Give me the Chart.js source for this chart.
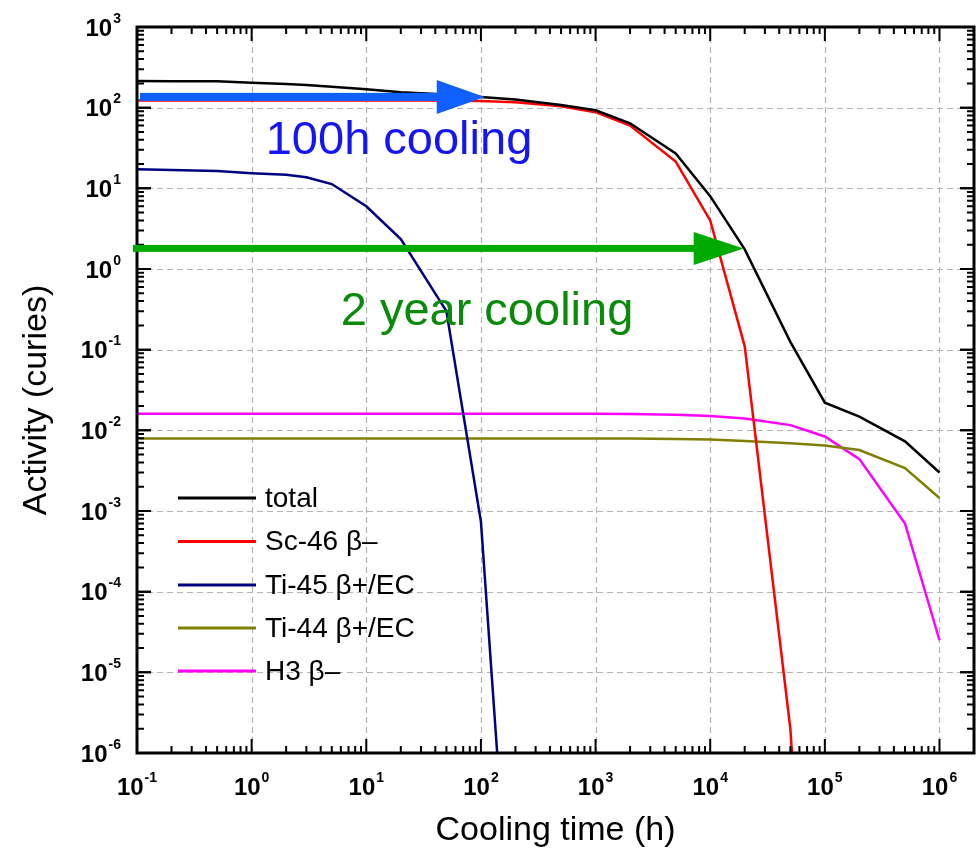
<!DOCTYPE html>
<html>
<head>
<meta charset="utf-8">
<script src="https://cdn.jsdelivr.net/npm/chart.js@4.4.0/dist/chart.umd.min.js"></script>
<style>
  body { margin: 0; background: #fff; }
  canvas { display: block; }
</style>
</head>
<body>
<canvas id="chart" width="977" height="858"></canvas>
<script>
// Cooling time grid (h)
const times = [0.1, 0.2, 0.5, 1, 2, 3, 5, 10, 20, 50, 100, 200, 500, 1000, 2000, 5000, 1e4, 2e4, 5e4, 1e5, 2e5, 5e5, 1e6];

// Activity (curies)
const total = [214, 213, 212, 204, 196, 191, 182, 169, 155, 146, 136, 126, 108, 93, 64, 27, 8.0, 1.75, 0.125, 0.022, 0.0148, 0.0073, 0.0030];
const sc46  = [123, 123, 123, 123, 123, 123, 123, 123, 123, 123, 121, 117, 104, 88, 60, 21.5, 4.0, 0.11, 2e-6, 1e-12, null, null, null];
const ti45  = [17.2, 16.9, 16.4, 15.4, 14.7, 13.7, 11.3, 6.0, 2.35, 0.30, 7.4e-4, 6e-10, null, null, null, null, null, null, null, null, null, null, null];
const ti44  = [0.0079, 0.0079, 0.0079, 0.0079, 0.0079, 0.0079, 0.0079, 0.0079, 0.0079, 0.0079, 0.0079, 0.0079, 0.0079, 0.0079, 0.0079, 0.0078, 0.0077, 0.0074, 0.0069, 0.0065, 0.0057, 0.0034, 0.00145];
const h3    = [0.0161, 0.0161, 0.0161, 0.0161, 0.0161, 0.0161, 0.0161, 0.0161, 0.0161, 0.0161, 0.0161, 0.0161, 0.0161, 0.0160, 0.0159, 0.0156, 0.0151, 0.0140, 0.0116, 0.0084, 0.0044, 7.0e-4, 2.5e-5];

const seriesLabels = ['total', 'Sc-46 \u03b2\u2013', 'Ti-45 \u03b2+/EC', 'Ti-44 \u03b2+/EC', 'H3 \u03b2\u2013'];
const seriesColors = ['#000000', '#ff0000', '#000080', '#808000', '#ff00ff'];

// axis decades (exponents) for tick labels
const xDecades = [-1, 0, 1, 2, 3, 4, 5, 6];
const yDecades = [3, 2, 1, 0, -1, -2, -3, -4, -5, -6];

// annotation arrows: [end time, activity]
const arrowBlue = [108, 136];
const arrowGreen = [19600, 1.8];

const FONT = '"Liberation Sans", Arial, Helvetica, sans-serif';

function toPoints(vals) {
    return times.map((t, i) => ({ x: t, y: vals[i] }));
}

const allSeries = [total, sc46, ti45, ti44, h3];
const datasets = allSeries.map((vals, i) => ({
    label: seriesLabels[i],
    data: toPoints(vals),
    borderColor: seriesColors[i],
    backgroundColor: seriesColors[i],
    borderWidth: 2.5,
    pointRadius: 0,
    tension: 0,
    spanGaps: false
}));

function drawArrow(ctx, x0, x1, y, color, shaft, headLen, headHalf) {
    ctx.save();
    ctx.fillStyle = color;
    ctx.fillRect(x0, y - shaft / 2, x1 - headLen - x0 + 1, shaft);
    ctx.beginPath();
    ctx.moveTo(x1, y);
    ctx.lineTo(x1 - headLen, y - headHalf);
    ctx.lineTo(x1 - headLen, y + headHalf);
    ctx.closePath();
    ctx.fill();
    ctx.restore();
}

function drawPow(ctx, exp, x, y, align) {
    // "10" with superscript exponent; y = baseline of "10"
    const base = 'bold 24px ' + FONT;
    const sup = 'bold 14px ' + FONT;
    const e = exp < 0 ? '-' + Math.abs(exp) : String(exp);
    ctx.font = base;
    const w1 = ctx.measureText('10').width;
    ctx.font = sup;
    const w2 = ctx.measureText(e).width;
    const w = w1 + 1 + w2;
    let left = align === 'right' ? x - w : x - w / 2;
    ctx.textAlign = 'left';
    ctx.textBaseline = 'alphabetic';
    ctx.fillStyle = '#000';
    ctx.font = base;
    ctx.fillText('10', left, y);
    ctx.font = sup;
    ctx.fillText(e, left + w1 + 1, y - 13);
}

const decor = {
    id: 'decor',
    beforeDatasetsDraw(chart) {
        const { ctx, chartArea: a, scales } = chart;
        ctx.save();
        ctx.strokeStyle = '#b4b4b4';
        ctx.lineWidth = 1.2;
        ctx.setLineDash([6, 4]);
        xDecades.forEach(p => {
            const x = Math.round(scales.x.getPixelForValue(Math.pow(10, p))) + 0.5;
            if (x <= a.left + 2 || x >= a.right - 2) return;
            ctx.beginPath(); ctx.moveTo(x, a.top); ctx.lineTo(x, a.bottom); ctx.stroke();
        });
        yDecades.forEach(p => {
            const y = Math.round(scales.y.getPixelForValue(Math.pow(10, p))) + 0.5;
            if (y <= a.top + 2 || y >= a.bottom - 2) return;
            ctx.beginPath(); ctx.moveTo(a.left, y); ctx.lineTo(a.right, y); ctx.stroke();
        });
        ctx.restore();
    },
    afterDatasetsDraw(chart) {
        const { ctx, chartArea: a, scales } = chart;
        const sx = scales.x, sy = scales.y;
        ctx.save();

        // frame
        ctx.strokeStyle = '#000';
        ctx.lineWidth = 3;
        ctx.strokeRect(a.left, a.top, a.right - a.left, a.bottom - a.top);

        // inward ticks
        ctx.lineWidth = 2;
        const major = 14, minor = 7;
        for (let p = -1; p <= 6; p++) {
            for (let m = 1; m <= 9; m++) {
                const v = m * Math.pow(10, p);
                if (v > sx.max) continue;
                const x = sx.getPixelForValue(v);
                const len = m === 1 ? major : minor;
                ctx.beginPath();
                ctx.moveTo(x, a.bottom); ctx.lineTo(x, a.bottom - len);
                ctx.moveTo(x, a.top); ctx.lineTo(x, a.top + len);
                ctx.stroke();
            }
        }
        for (let p = -6; p <= 2; p++) {
            for (let m = 1; m <= 10; m++) {
                const v = m * Math.pow(10, p);
                const y = sy.getPixelForValue(v);
                const len = (m === 1 || m === 10) ? major : minor;
                ctx.beginPath();
                ctx.moveTo(a.left, y); ctx.lineTo(a.left + len, y);
                ctx.moveTo(a.right, y); ctx.lineTo(a.right - len, y);
                ctx.stroke();
            }
        }

        // tick labels
        xDecades.forEach(p => drawPow(ctx, p, sx.getPixelForValue(Math.pow(10, p)), 795, 'center'));
        yDecades.forEach(p => drawPow(ctx, p, 121, sy.getPixelForValue(Math.pow(10, p)) + 8.6, 'right'));

        // axis titles
        ctx.fillStyle = '#000';
        ctx.font = '34px ' + FONT;
        ctx.textAlign = 'center';
        ctx.textBaseline = 'middle';
        ctx.fillText('Cooling time (h)', (a.left + a.right) / 2, 831);
        ctx.save();
        ctx.translate(37, 400);
        ctx.rotate(-Math.PI / 2);
        ctx.fillText('Activity (curies)', 0, 0);
        ctx.restore();

        // legend
        const rowY = [498, 541.5, 585, 628, 671];
        ctx.font = '28px ' + FONT;
        ctx.textAlign = 'left';
        ctx.textBaseline = 'middle';
        chart.data.datasets.forEach((ds, i) => {
            ctx.strokeStyle = ds.borderColor;
            ctx.lineWidth = 3;
            ctx.beginPath();
            ctx.moveTo(178, rowY[i]); ctx.lineTo(256, rowY[i]);
            ctx.stroke();
            ctx.fillStyle = '#000';
            ctx.fillText(ds.label, 265, rowY[i] + 1);
        });

        // annotations
        const bx = sx.getPixelForValue(arrowBlue[0]);
        const by = sy.getPixelForValue(arrowBlue[1]);
        drawArrow(ctx, a.left + 3, bx, by, '#1060ff', 8, 48, 17);
        const gx = sx.getPixelForValue(arrowGreen[0]);
        const gy = sy.getPixelForValue(arrowGreen[1]);
        drawArrow(ctx, a.left - 4, gx, gy, '#00aa00', 7, 50, 16.5);

        ctx.font = '47px ' + FONT;
        ctx.textAlign = 'center';
        ctx.textBaseline = 'alphabetic';
        ctx.fillStyle = '#1414f5';
        ctx.fillText('100h cooling', 399, 154);
        ctx.fillStyle = '#0a8a0a';
        ctx.fillText('2 year cooling', 487, 325);

        ctx.restore();
    }
};

new Chart(document.getElementById('chart'), {
    type: 'line',
    data: { datasets: datasets },
    options: {
        responsive: false,
        animation: false,
        devicePixelRatio: 1,
        layout: { padding: { left: 137, top: 27, right: 3, bottom: 105 } },
        plugins: { legend: { display: false }, tooltip: { enabled: false } },
        scales: {
            x: { type: 'logarithmic', min: 0.1, max: 2e6, display: false },
            y: { type: 'logarithmic', min: 1e-6, max: 1e3, display: false }
        }
    },
    plugins: [decor]
});
</script>
</body>
</html>
